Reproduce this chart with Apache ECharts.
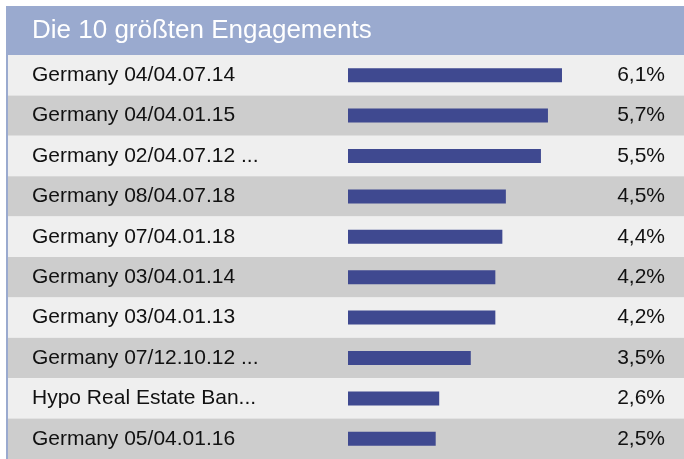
<!DOCTYPE html>
<html>
<head>
<meta charset="utf-8">
<script src="https://cdn.jsdelivr.net/npm/echarts@6/dist/echarts.min.js"></script>
<style>
  html, body { margin: 0; padding: 0; background: #fff; }
  #chart { width: 684px; height: 459px; }
</style>
</head>
<body>
<div id="chart"></div>
<script>
const titleText = 'Die 10 größten Engagements'
const names = [
  'Germany 04/04.07.14',
  'Germany 04/04.01.15',
  'Germany 02/04.07.12 ...',
  'Germany 08/04.07.18',
  'Germany 07/04.01.18',
  'Germany 03/04.01.14',
  'Germany 03/04.01.13',
  'Germany 07/12.10.12 ...',
  'Hypo Real Estate Ban...',
  'Germany 05/04.01.16'
]
const shares = [6.1, 5.7, 5.5, 4.5, 4.4, 4.2, 4.2, 3.5, 2.6, 2.5]
const shareLabels = shares.map((v) => v.toFixed(1).replace('.', ',') + '%')

const chart = echarts.init(document.getElementById('chart'))

// grid spans the full row width; value 0 sits at x=348
const pxPerUnit = 35.08
const gridLeft = 8
const gridWidth = 676
const zeroX = 348
const font = 'Liberation Sans, Arial, sans-serif'

const option = {
  animation: false,
  textStyle: { fontFamily: font },
  graphic: [
    { type: 'rect', shape: { x: 6, y: 6, width: 678, height: 49 }, style: { fill: '#9aaacf' } },
    { type: 'rect', shape: { x: 6, y: 55, width: 2, height: 404 }, style: { fill: '#9aaacf' } },
    {
      type: 'text', x: 32, y: 31,
      style: { text: titleText, fill: '#ffffff', font: '26px ' + font, verticalAlign: 'middle' }
    }
  ],
  grid: { left: gridLeft, width: gridWidth, top: 55, bottom: 0 },
  xAxis: {
    type: 'value',
    min: -(zeroX - gridLeft) / pxPerUnit,
    max: (gridLeft + gridWidth - zeroX) / pxPerUnit,
    show: false
  },
  yAxis: [
    {
      type: 'category',
      data: names,
      inverse: true,
      axisLine: { show: false },
      axisTick: { show: false },
      splitArea: { show: true, areaStyle: { color: ['#efefef', '#cdcdcd'] } },
      axisLabel: { inside: true, margin: 24, align: 'left', color: '#111', fontSize: 21, fontFamily: font }
    },
    {
      type: 'category',
      position: 'right',
      data: shareLabels,
      inverse: true,
      axisLine: { show: false },
      axisTick: { show: false },
      axisLabel: { inside: true, margin: 19, align: 'right', color: '#111', fontSize: 21, fontFamily: font }
    }
  ],
  series: [
    {
      type: 'bar',
      data: shares,
      barWidth: 14,
      itemStyle: { color: '#3f4990' },
      silent: true
    }
  ]
}

chart.setOption(option)
</script>
</body>
</html>
